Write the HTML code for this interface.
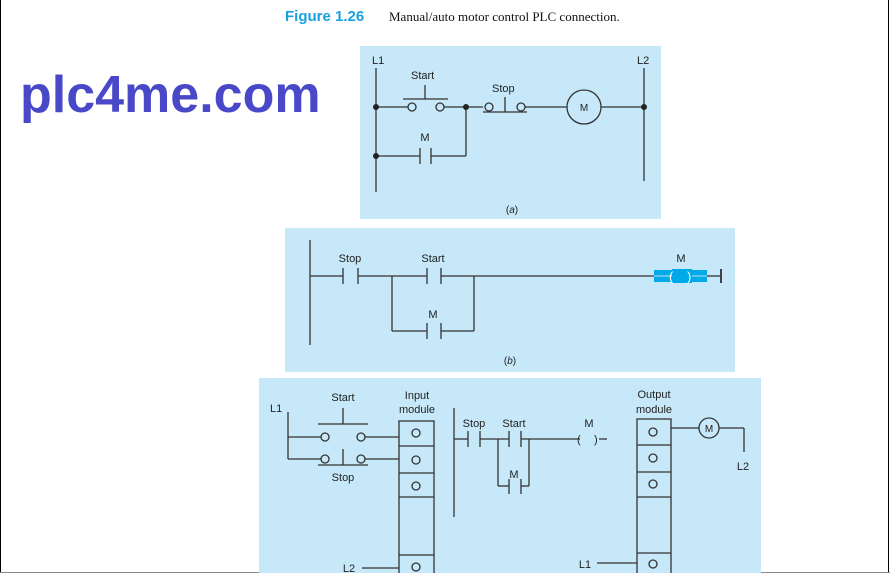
<!DOCTYPE html>
<html><head><meta charset="utf-8"><style>
html,body{margin:0;padding:0;background:#fff;}
svg{display:block;}
text{font-family:"Liberation Sans",Arial,sans-serif;font-size:11px;fill:#222;}
</style></head><body>
<svg width="890" height="573" viewBox="0 0 890 573" xmlns="http://www.w3.org/2000/svg">
<rect x="0" y="0" width="890" height="573" fill="#fff"/>
<line x1="0.5" y1="0" x2="0.5" y2="573" stroke="#000"/>
<line x1="888.5" y1="0" x2="888.5" y2="573" stroke="#000"/>
<line x1="0" y1="572.5" x2="890" y2="572.5" stroke="#888"/>
<text x="285" y="21" style="font-size:15px;font-weight:bold;fill:#1aa0e0">Figure 1.26</text>
<text x="389" y="21" style="font-family:'Liberation Serif',serif;font-size:13px;fill:#111">Manual/auto motor control PLC connection.</text>
<text x="20" y="112" style="font-size:52px;font-weight:bold;fill:#4848c8">plc4me.com</text>

<g stroke="#333" stroke-width="1.3" fill="none">
<!-- panel a -->
<rect x="360" y="46" width="301" height="173" fill="#c6e8f8" stroke="none"/>
<line x1="376" y1="68" x2="376" y2="192"/>
<line x1="644" y1="68" x2="644" y2="181"/>
<line x1="376" y1="107" x2="408" y2="107"/>
<circle cx="412" cy="107" r="4" fill="#c6e8f8"/>
<circle cx="440" cy="107" r="4" fill="#c6e8f8"/>
<line x1="444" y1="107" x2="483" y2="107"/>
<line x1="403" y1="99" x2="448" y2="99"/><line x1="425" y1="85" x2="425" y2="99"/>
<circle cx="489" cy="107" r="4" fill="#c6e8f8"/>
<circle cx="521" cy="107" r="4" fill="#c6e8f8"/>
<line x1="483" y1="112" x2="527" y2="112"/><line x1="505" y1="97" x2="505" y2="112"/>
<line x1="525" y1="107" x2="567" y2="107"/>
<circle cx="584" cy="107" r="17"/>
<line x1="601" y1="107" x2="644" y2="107"/>
<line x1="376" y1="156" x2="420" y2="156"/>
<line x1="420" y1="148" x2="420" y2="164"/><line x1="431" y1="148" x2="431" y2="164"/>
<line x1="431" y1="156" x2="466" y2="156"/><line x1="466" y1="156" x2="466" y2="107"/>

<!-- panel b -->
<rect x="285" y="228" width="450" height="144" fill="#c6e8f8" stroke="none"/>
<line x1="310" y1="240" x2="310" y2="345"/>
<line x1="310" y1="276" x2="343" y2="276"/>
<line x1="343" y1="268" x2="343" y2="284"/><line x1="358" y1="268" x2="358" y2="284"/>
<line x1="358" y1="276" x2="427" y2="276"/>
<line x1="427" y1="268" x2="427" y2="284"/><line x1="441" y1="268" x2="441" y2="284"/>
<line x1="441" y1="276" x2="654" y2="276"/>
<line x1="392" y1="276" x2="392" y2="331"/><line x1="474" y1="276" x2="474" y2="331"/>
<line x1="392" y1="331" x2="427" y2="331"/><line x1="441" y1="331" x2="474" y2="331"/>
<line x1="427" y1="323" x2="427" y2="339"/><line x1="441" y1="323" x2="441" y2="339"/>
<line x1="707" y1="276" x2="721" y2="276"/>
<line x1="721" y1="269" x2="721" y2="283" stroke-width="1.8"/>

<!-- panel c -->
<rect x="259" y="378" width="502" height="195" fill="#c6e8f8" stroke="none"/>
<line x1="288" y1="412" x2="288" y2="459"/>
<line x1="288" y1="437" x2="321" y2="437"/>
<circle cx="325" cy="437" r="4"/><circle cx="361" cy="437" r="4"/>
<line x1="365" y1="437" x2="399" y2="437"/>
<line x1="318" y1="424" x2="368" y2="424"/><line x1="343" y1="408" x2="343" y2="424"/>
<line x1="288" y1="459" x2="321" y2="459"/>
<circle cx="325" cy="459" r="4"/><circle cx="361" cy="459" r="4"/>
<line x1="365" y1="459" x2="399" y2="459"/>
<line x1="318" y1="465" x2="368" y2="465"/><line x1="343" y1="449" x2="343" y2="465"/>
<rect x="399" y="421" width="35" height="160"/>
<line x1="399" y1="446" x2="434" y2="446"/><line x1="399" y1="473" x2="434" y2="473"/>
<line x1="399" y1="497" x2="434" y2="497"/><line x1="399" y1="555" x2="434" y2="555"/>
<circle cx="416" cy="433" r="4"/><circle cx="416" cy="460" r="4"/><circle cx="416" cy="486" r="4"/><circle cx="416" cy="567" r="4"/>
<line x1="362" y1="568" x2="399" y2="568"/>

<line x1="454" y1="408" x2="454" y2="517"/>
<line x1="454" y1="439" x2="468" y2="439"/>
<line x1="468" y1="431" x2="468" y2="447"/><line x1="480" y1="431" x2="480" y2="447"/>
<line x1="480" y1="439" x2="509" y2="439"/>
<line x1="509" y1="431" x2="509" y2="447"/><line x1="521" y1="431" x2="521" y2="447"/>
<line x1="521" y1="439" x2="580" y2="439"/>
<line x1="498" y1="439" x2="498" y2="486"/><line x1="529" y1="439" x2="529" y2="486"/>
<line x1="498" y1="486" x2="509" y2="486"/><line x1="521" y1="486" x2="529" y2="486"/>
<line x1="509" y1="479" x2="509" y2="494"/><line x1="521" y1="479" x2="521" y2="494"/>
<line x1="599" y1="439" x2="607" y2="439"/>

<rect x="637" y="419" width="34" height="162"/>
<line x1="637" y1="445" x2="671" y2="445"/><line x1="637" y1="472" x2="671" y2="472"/>
<line x1="637" y1="497" x2="671" y2="497"/><line x1="637" y1="553" x2="671" y2="553"/>
<circle cx="653" cy="432" r="4"/><circle cx="653" cy="458" r="4"/><circle cx="653" cy="484" r="4"/><circle cx="653" cy="564" r="4"/>
<line x1="671" y1="428" x2="699" y2="428"/>
<circle cx="709" cy="428" r="10"/>
<line x1="719" y1="428" x2="744" y2="428"/><line x1="744" y1="428" x2="744" y2="452"/>
<line x1="597" y1="563" x2="637" y2="563"/>
</g>
<g fill="#222">
<circle cx="376" cy="107" r="3"/><circle cx="466" cy="107" r="3"/><circle cx="644" cy="107" r="3"/><circle cx="376" cy="156" r="3"/>
</g>
<!-- coil highlight -->
<rect x="654" y="270" width="53" height="12" fill="#00a9e8"/>
<line x1="654" y1="276" x2="707" y2="276" stroke="#bfe6f7" stroke-width="1"/>
<rect x="672" y="269" width="20" height="14" fill="#00a9e8"/>
<text x="669" y="281" style="font-size:13px;fill:#fff">(</text>
<text x="687" y="281" style="font-size:13px;fill:#fff">)</text>
<text x="577" y="443" style="font-size:11px">(</text>
<text x="594" y="443" style="font-size:11px">)</text>

<text x="372" y="64">L1</text><text x="637" y="64">L2</text>
<text x="411" y="79">Start</text><text x="492" y="92">Stop</text>
<text x="584" y="111" text-anchor="middle" style="font-size:10px">M</text>
<text x="425" y="141" text-anchor="middle">M</text>
<text x="512" y="213" text-anchor="middle" style="font-size:10px">(<tspan font-style="italic">a</tspan>)</text>

<text x="350" y="262" text-anchor="middle">Stop</text>
<text x="433" y="262" text-anchor="middle">Start</text>
<text x="433" y="318" text-anchor="middle">M</text>
<text x="681" y="262" text-anchor="middle">M</text>
<text x="510" y="364" text-anchor="middle" style="font-size:10px">(<tspan font-style="italic">b</tspan>)</text>

<text x="270" y="412">L1</text>
<text x="343" y="401" text-anchor="middle">Start</text>
<text x="343" y="481" text-anchor="middle">Stop</text>
<text x="417" y="399" text-anchor="middle">Input</text>
<text x="417" y="413" text-anchor="middle">module</text>
<text x="474" y="427" text-anchor="middle">Stop</text>
<text x="514" y="427" text-anchor="middle">Start</text>
<text x="514" y="478" text-anchor="middle">M</text>
<text x="589" y="427" text-anchor="middle">M</text>
<text x="654" y="398" text-anchor="middle">Output</text>
<text x="654" y="413" text-anchor="middle">module</text>
<text x="709" y="432" text-anchor="middle" style="font-size:10px">M</text>
<text x="743" y="470" text-anchor="middle">L2</text>
<text x="349" y="572" text-anchor="middle">L2</text>
<text x="585" y="568" text-anchor="middle">L1</text>
</svg>
</body></html>
